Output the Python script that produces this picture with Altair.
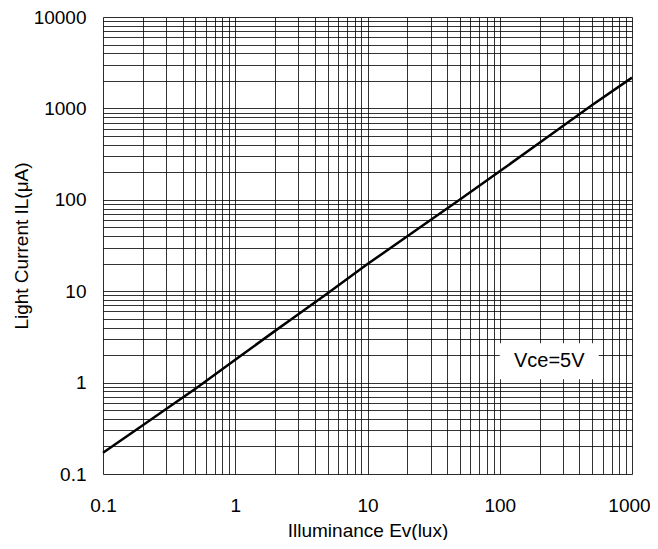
import altair as alt
import pandas as pd

# Curve
lux = [0.1, 0.2, 0.3, 0.5, 1, 2, 3, 5, 10, 20, 50, 100, 200, 500, 1000]
current = [0.171, 0.342, 0.513, 0.855, 1.78, 3.68, 5.6, 9.5, 19.8, 39.9, 101, 205, 420, 1090, 2170]

x_decades = [0.1, 1, 10, 100, 1000]
y_decades = [0.1, 1, 10, 100, 1000, 10000]

x_grid = [round(m * d, 6) for d in x_decades[:-1] for m in range(1, 10)] + [1000]
y_grid = [round(m * d, 6) for d in y_decades[:-1] for m in range(1, 10)] + [10000]

label_text = ["Vce=5V"]
label_box_x = [100, 560]
label_box_y = [1.09, 2.7]

df = pd.DataFrame({"lux": lux, "current": current})
box = pd.DataFrame({"x1": [label_box_x[0]], "x2": [label_box_x[1]],
                    "y1": [label_box_y[0]], "y2": [label_box_y[1]],
                    "t": label_text})

FONT = "Liberation Sans"

lab_expr = "format(datum.value, '~g')"
xs = alt.Scale(type="log", domain=[0.1, 1000], nice=False)
ys = alt.Scale(type="log", domain=[0.1, 10000], nice=False)

x_axis = alt.Axis(values=x_grid, labelExpr=f"indexof({x_decades}, datum.value) >= 0 ? {lab_expr} : ''",
                  labelOverlap=False, labelFlush=False, ticks=False, domain=False, grid=True,
                  gridColor="#000", gridOpacity=0.8, gridWidth=1,
                  labelFont=FONT, labelFontSize=19, labelColor="#000", labelPadding=22,
                  labelOffset={"condition": {"test": "datum.value >= 1000", "value": -3}, "value": 0},
                  title="Illuminance Ev(lux)", titleFont=FONT, titleFontSize=19,
                  titleFontWeight="normal", titleColor="#000", titlePadding=6)
y_axis = alt.Axis(values=y_grid, labelExpr=f"indexof({y_decades}, datum.value) >= 0 ? {lab_expr} : ''",
                  labelOverlap=False, labelFlush=False, ticks=False, domain=False, grid=True,
                  gridColor="#000", gridOpacity=0.8, gridWidth=1,
                  labelFont=FONT, labelFontSize=19, labelColor="#000", labelPadding=17,
                  title="Light Current IL(μA)", titleFont=FONT, titleFontSize=19,
                  titleFontWeight="normal", titleColor="#000", titlePadding=2)

line = alt.Chart(df).mark_line(color="#000", strokeWidth=2.5).encode(
    x=alt.X("lux:Q", scale=xs, axis=x_axis),
    y=alt.Y("current:Q", scale=ys, axis=y_axis),
)

rect = alt.Chart(box).mark_rect(color="white").encode(
    x=alt.X("x1:Q", scale=xs), x2="x2:Q",
    y=alt.Y("y1:Q", scale=ys), y2="y2:Q",
)

txt = alt.Chart(box).mark_text(font=FONT, fontSize=20, color="#000").encode(
    x=alt.X("xm:Q", scale=xs), y=alt.Y("ym:Q", scale=ys), text="t:N"
).transform_calculate(
    xm="sqrt(datum.x1*datum.x2)", ym="sqrt(datum.y1*datum.y2)"
)

chart = alt.layer(line, rect, txt).properties(
    width=529, height=457,
    autosize=alt.AutoSizeParams(type="none"),
    padding={"left": 95, "top": 9, "right": 18, "bottom": 66},
).configure_view(stroke="#000", strokeWidth=1.5).configure(background="white")

chart.save("out.html", embed_options={"renderer": "svg", "actions": False})
